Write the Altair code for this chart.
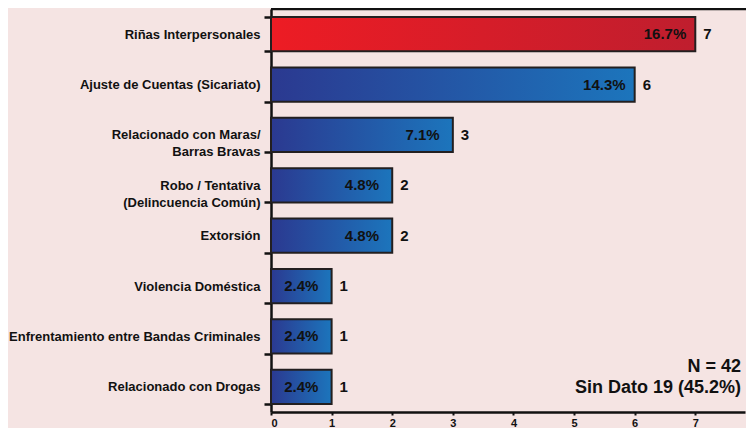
import altair as alt
import pandas as pd

categories = [
    "Riñas Interpersonales",
    "Ajuste de Cuentas (Sicariato)",
    "Relacionado con Maras/\nBarras Bravas",
    "Robo / Tentativa \n(Delincuencia Común)",
    "Extorsión",
    "Violencia Doméstica",
    "Enfrentamiento entre Bandas Criminales",
    "Relacionado con Drogas",
]
counts = [7, 6, 3, 2, 2, 1, 1, 1]
percents = ["16.7%", "14.3%", "7.1%", "4.8%", "4.8%", "2.4%", "2.4%", "2.4%"]
highlight = [True, False, False, False, False, False, False, False]
note_lines = ["N = 42", "Sin Dato 19 (45.2%)"]

df = pd.DataFrame({"cat": categories, "n": counts, "pct": percents, "hi": highlight})

FONT = "Liberation Sans"
W, H = 474, 403

yenc = alt.Y("cat:N", sort=categories, title=None,
             scale=alt.Scale(paddingInner=0.32, paddingOuter=0.16),
             axis=alt.Axis(labelExpr="split(datum.label, '\\n')", labelFont=FONT,
                           labelFontSize=13, labelFontWeight="bold", labelColor="#111",
                           labelLineHeight=17, labelPadding=4, labelLimit=0,
                           tickBand="extent",
                           tickSize=7, tickWidth=2.5, tickColor="#111",
                           domainColor="#111", domainWidth=2.5))
xenc = alt.X("n:Q", title=None,
             scale=alt.Scale(domain=[0, 7.82], nice=False),
             axis=alt.Axis(values=[0, 1, 2, 3, 4, 5, 6, 7], format="d", grid=False,
                           labelFont=FONT,
                           labelFontSize=11, labelFontWeight="bold", labelColor="#111",
                           tickSize=3, tickWidth=2, tickColor="#111", labelPadding=2,
                           domainColor="#111", domainWidth=2.5))

red = alt.Gradient(gradient="linear", x1=0, x2=1, y1=0, y2=0,
                   stops=[alt.GradientStop(offset=0, color="#ed1c24"),
                          alt.GradientStop(offset=1, color="#bf1e2e")])
blue = alt.Gradient(gradient="linear", x1=0, x2=1, y1=0, y2=0,
                    stops=[alt.GradientStop(offset=0, color="#2b3990"),
                           alt.GradientStop(offset=1, color="#1c75bc")])

base = alt.Chart(df)

bars_red = base.transform_filter("datum.hi").mark_bar(
    fill=red, stroke="#231f20", strokeWidth=2).encode(x=xenc, y=yenc)
bars_blue = base.transform_filter("!datum.hi").mark_bar(
    fill=blue, stroke="#231f20", strokeWidth=2).encode(x=xenc, y=yenc)

pct_text = base.transform_calculate(pos="datum.n - 0.5").mark_text(
    font=FONT, fontSize=15, fontWeight="bold", color="#111", align="center",
    baseline="middle").encode(x=alt.X("pos:Q"), y=alt.Y("cat:N", sort=categories),
                              text="pct:N")
cnt_text = base.mark_text(
    font=FONT, fontSize=15, fontWeight="bold", color="#111", align="left",
    baseline="middle", dx=8).encode(x=alt.X("n:Q"), y=alt.Y("cat:N", sort=categories),
                                    text="n:Q")

top_rule = alt.Chart(pd.DataFrame({"a": [0]})).mark_rule(
    color="#111", strokeWidth=2.5).encode(x=alt.value(0), x2=alt.value(W + 10),
                                          y=alt.value(0))

note_df = pd.DataFrame({"t": note_lines, "py": [358, 379]})
notes = alt.Chart(note_df).mark_text(
    font=FONT, fontSize=18, fontWeight="bold", color="#111", align="right",
    baseline="middle").encode(x=alt.value(470), y=alt.Y("py:Q", scale=None), text="t:N")

chart = alt.layer(bars_red, bars_blue, pct_text, cnt_text, top_rule, notes).properties(
    width=W, height=H, background="#f5e4e3",
    autosize=alt.AutoSizeParams(type="none"),
    padding={"left": 263, "top": 1, "right": 1, "bottom": 16},
).configure_view(stroke=None)

chart.save("out.html", embed_options={"renderer": "svg", "actions": False})
